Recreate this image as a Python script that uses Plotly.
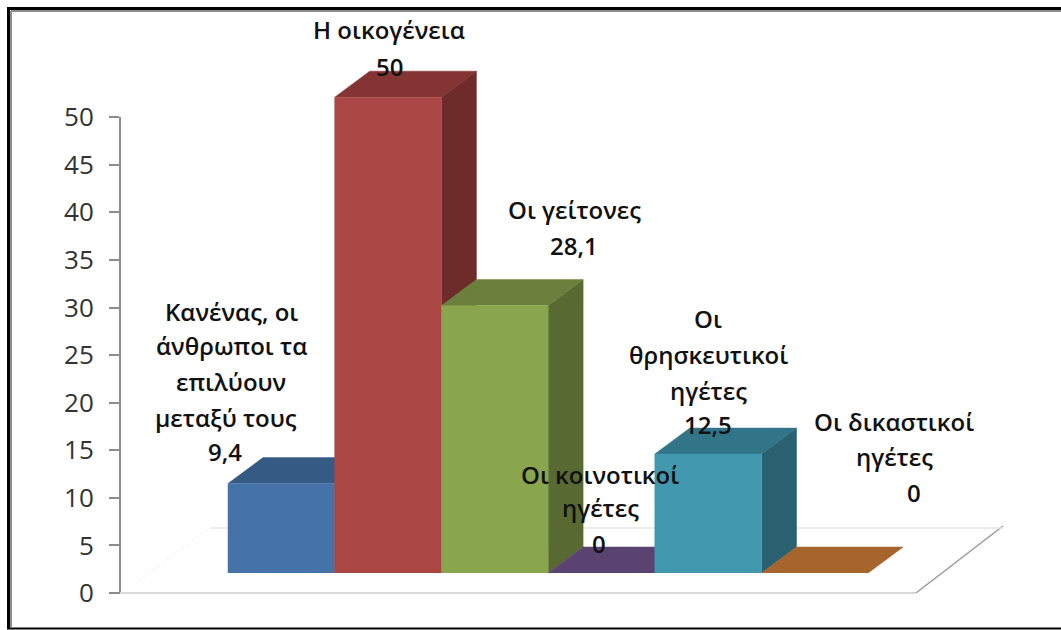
import plotly.graph_objects as go

# --- Data ---
categories = [
    "Κανένας, οι άνθρωποι τα επιλύουν μεταξύ τους",
    "Η οικογένεια",
    "Οι γείτονες",
    "Οι κοινοτικοί ηγέτες",
    "Οι θρησκευτικοί ηγέτες",
    "Οι δικαστικοί ηγέτες",
]
values = [9.4, 50, 28.1, 0, 12.5, 0]
y_ticks = [0, 5, 10, 15, 20, 25, 30, 35, 40, 45, 50]

front_colors = ["#4572A7", "#AA4643", "#89A54E", "#71588F", "#4198AF", "#DB843D"]
top_colors = ["#355A84", "#843432", "#6A803C", "#5A4370", "#327588", "#A7652E"]
side_colors = ["#2C4A6E", "#6D2B29", "#586A32", "#4A375C", "#2A6170", "#8A5326"]

# label lines: (text, centre x px, centre y px)
label_lines = [
    ("Κανένας, οι", 231, 311),
    ("άνθρωποι τα", 231, 346),
    ("επιλύουν", 231, 381),
    ("μεταξύ τους", 226, 417),
    ("9,4", 225, 452),
    ("Η οικογένεια", 389, 30),
    ("50", 389, 67),
    ("Οι γείτονες", 574, 209),
    ("28,1", 574, 245),
    ("Οι", 708, 319),
    ("θρησκευτικοί", 708, 354),
    ("ηγέτες", 708, 390),
    ("12,5", 708, 424),
    ("Οι κοινοτικοί", 600, 474),
    ("ηγέτες", 600, 507),
    ("0", 599, 543),
    ("Οι δικαστικοί", 894, 421),
    ("ηγέτες", 894, 457),
    ("0", 914, 492),
]

# --- Layout geometry (px) ---
WIDTH, HEIGHT = 1061, 630
LEFT, RIGHT, TOP, BOTTOM = 120, 1050, 22, 593
Y_MAX = 60  # room above the 50 tick for the 3D bar tops
BAR_PX = 106.7
FIRST_BAR_LEFT = 228
FLOOR = 2.1  # bars stand on a floor above the zero of the axis
DEPTH_X = 0.328
DEPTH_Y = 2.73


def paper_x(px):
    return (px - LEFT) / (RIGHT - LEFT)


def paper_y(py):
    return (BOTTOM - py) / (BOTTOM - TOP)


def face(xs, ys, color):
    return go.Scatter(
        x=xs,
        y=ys,
        mode="lines",
        fill="toself",
        fillcolor=color,
        line=dict(color=color, width=0.5),
        hoverinfo="skip",
        showlegend=False,
    )


fig = go.Figure()

for i, value in enumerate(values):
    x0, x1 = i - 0.5, i + 0.5
    low, high = FLOOR, FLOOR + value
    if value > 0:
        fig.add_trace(
            face(
                [x1, x1 + DEPTH_X, x1 + DEPTH_X, x1],
                [low, low + DEPTH_Y, high + DEPTH_Y, high],
                side_colors[i],
            )
        )
    fig.add_trace(
        face(
            [x0, x0 + DEPTH_X, x1 + DEPTH_X, x1],
            [high, high + DEPTH_Y, high + DEPTH_Y, high],
            top_colors[i],
        )
    )
    if value > 0:
        fig.add_trace(face([x0, x0, x1, x1], [low, high, high, low], front_colors[i]))

x_start = (LEFT - (FIRST_BAR_LEFT + BAR_PX / 2)) / BAR_PX
x_end = (RIGHT - (FIRST_BAR_LEFT + BAR_PX / 2)) / BAR_PX

fig.update_xaxes(range=[x_start, x_end], showticklabels=False, showgrid=False, zeroline=False)
fig.update_yaxes(
    range=[0, Y_MAX],
    tickvals=y_ticks,
    ticks="outside",
    ticklen=10,
    tickwidth=2,
    tickcolor="#8C8C8C",
    ticklabelstandoff=10,
    showline=False,
    showgrid=False,
    zeroline=False,
    tickfont=dict(family="Open Sans, sans-serif", size=26, color="#333333"),
)

for text, cx, cy in label_lines:
    fig.add_annotation(
        x=paper_x(cx),
        y=paper_y(cy),
        xref="paper",
        yref="paper",
        text=text,
        showarrow=False,
        xanchor="center",
        yanchor="middle",
        font=dict(family="Open Sans, sans-serif", size=24, color="#111111", weight=600),
    )


def px_line(x0, y0, x1, y1, color, width, dash="solid"):
    return dict(
        type="line",
        xref="paper",
        yref="paper",
        x0=paper_x(x0),
        y0=paper_y(y0),
        x1=paper_x(x1),
        y1=paper_y(y1),
        line=dict(color=color, width=width, dash=dash),
        layer="below",
    )


shapes = [
    # value axis line, stops at the 50 tick
    px_line(120, 117, 120, 594, "#8C8C8C", 2),
    # floor of the 3D box
    px_line(120, 593, 916, 593, "#D9D9D9", 2),
    px_line(916, 593, 1003, 526, "#9A9A9A", 1.5),
    px_line(210, 528, 1003, 528, "#E6E6E6", 1.5),
    px_line(138, 581, 210, 528, "#EEEEEE", 1, "dot"),
    # picture frame
    px_line(7, 8.5, 1061, 8.5, "#000000", 3),
    px_line(8.5, 7, 8.5, 629, "#000000", 3),
    px_line(7, 628.5, 1061, 628.5, "#000000", 2),
    px_line(11, 11, 1061, 11, "#8F8F8F", 2),
    px_line(11, 11, 11, 627, "#8F8F8F", 2),
]

fig.update_layout(
    width=WIDTH,
    height=HEIGHT,
    autosize=False,
    margin=dict(l=LEFT, r=WIDTH - RIGHT, t=TOP, b=HEIGHT - BOTTOM, pad=0),
    paper_bgcolor="white",
    plot_bgcolor="white",
    showlegend=False,
    shapes=shapes,
)

fig.write_html(
    "out.html",
    config={"displayModeBar": False},
    post_script="document.body.style.margin='0';document.documentElement.style.overflow='hidden';",
)
